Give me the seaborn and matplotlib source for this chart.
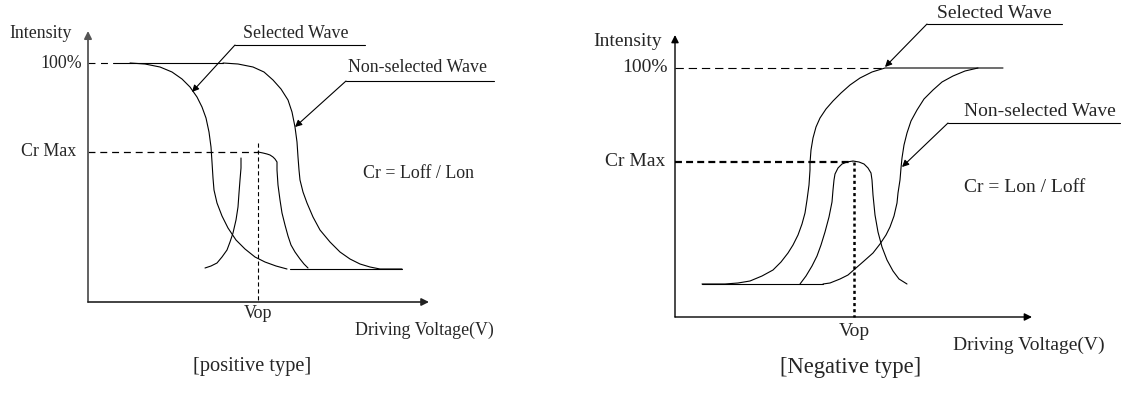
import matplotlib
matplotlib.use("Agg")
import matplotlib.pyplot as plt
import seaborn as sns

sns.set_theme(style="white")
plt.rcParams["font.family"] = ["Liberation Serif", "DejaVu Serif"]
plt.rcParams["lines.scale_dashes"] = False

# positions (x right, y down)
# --- positive type (left) ---
pos_sel_x = [130, 145, 160, 172, 182, 190, 197, 202, 206, 209, 211, 212, 213,
             214, 217, 222, 228, 236, 245, 255, 265, 276, 287]
pos_sel_y = [63, 64, 67, 72, 79, 87, 97, 107, 118, 132, 147, 162, 178,
             190, 203, 216, 228, 240, 249, 257, 262, 266, 269]
pos_non_x = [223, 238, 253, 264, 273, 281, 288, 292, 295, 297, 298, 299, 300,
             303, 307, 313, 320, 330, 340, 350, 360, 370, 380, 402]
pos_non_y = [63, 64, 67, 72, 80, 89, 100, 112, 127, 142, 157, 170, 180,
             192, 203, 217, 230, 242, 252, 259, 264, 267, 269, 269]
pos_cr_left_x = [205, 211, 217, 222, 227, 230, 233, 236, 238, 239, 240, 241, 241]
pos_cr_left_y = [268, 266, 263, 257, 250, 242, 233, 220, 207, 193, 180, 168, 158]
pos_cr_right_x = [258, 263, 267, 270, 273, 275, 277, 277, 277, 278, 280, 282,
                  285, 288, 291, 295, 300, 304, 308]
pos_cr_right_y = [152, 153, 154, 155, 157, 159, 162, 166, 170, 185, 200, 213,
                  225, 236, 245, 252, 259, 264, 268]
pos_top_x = [113, 223]
pos_top_y = [63, 63]
pos_base_x = [290, 402]
pos_base_y = [269, 269]

# --- negative type (right) ---
neg_sel_x = [702, 725, 738, 750, 762, 773, 781, 788, 793, 798, 802, 805, 807,
             809, 810, 810, 811, 813, 816, 820, 826, 833, 841, 850, 860, 872,
             885, 1003]
neg_sel_y = [284, 284, 283, 281, 276, 270, 262, 253, 245, 235, 224, 213, 200,
             185, 170, 163, 150, 138, 127, 118, 109, 101, 93, 85, 78, 72,
             68, 68]
neg_non_x = [823, 830, 840, 848, 856, 864, 873, 880, 886, 890, 894, 897, 898,
             900, 901, 902, 904, 907, 911, 917, 924, 933, 942, 953, 965, 978]
neg_non_y = [284, 283, 279, 275, 268, 261, 253, 244, 235, 227, 216, 203, 193,
             180, 168, 158, 145, 133, 121, 110, 99, 90, 82, 76, 71, 68]
neg_cr_x = [800, 806, 812, 817, 821, 825, 829, 832, 833, 834, 835, 838, 842,
            847, 853, 859, 864, 868, 871, 872, 873, 875, 878, 882, 887, 893,
            899, 907]
neg_cr_y = [284, 276, 266, 256, 245, 232, 217, 202, 190, 180, 174, 168, 164,
            162, 161, 162, 164, 168, 173, 180, 195, 215, 232, 247, 260, 271,
            279, 284]
neg_base_x = [702, 823]
neg_base_y = [284, 284]

fig = plt.figure(figsize=(11.23, 4.0), dpi=100)
ax = fig.add_axes([0, 0, 1, 1])
ax.set_xlim(0, 1123)
ax.set_ylim(400, 0)
ax.axis("off")

curves = [
    (pos_sel_x, pos_sel_y), (pos_non_x, pos_non_y),
    (pos_cr_left_x, pos_cr_left_y), (pos_cr_right_x, pos_cr_right_y),
    (pos_top_x, pos_top_y), (pos_base_x, pos_base_y),
    (neg_sel_x, neg_sel_y), (neg_non_x, neg_non_y), (neg_cr_x, neg_cr_y),
    (neg_base_x, neg_base_y),
]
for cx, cy in curves:
    sns.lineplot(x=cx, y=cy, sort=False, estimator=None, color="black",
                 lw=0.8, ax=ax)

# axes with arrow heads
def arrow(start, tip, color="black", lw=1.0, ms=11):
    ax.annotate("", xy=tip, xytext=start,
                arrowprops=dict(arrowstyle="-|>", color=color, lw=lw,
                                mutation_scale=ms, shrinkA=0, shrinkB=0))

arrow((88, 302), (88, 31), color="#555555", lw=1.3)
arrow((88, 302), (429, 302), color="#222222", lw=1.2)
arrow((675, 317), (675, 35), lw=1.0)
arrow((675, 317), (1032, 317), lw=1.0)

# reference dashes, left
ax.plot([88, 113], [63, 63], color="black", lw=0.8, ls=(0, (5, 4)))
ax.plot([88, 258], [152, 152], color="black", lw=0.9, ls=(0, (5, 3.5)))
ax.plot([258, 258], [143, 302], color="black", lw=0.8, ls=(0, (3, 2)))
# reference dashes, right
ax.plot([675, 885], [68, 68], color="black", lw=0.8, ls=(0, (6, 3.5)))
ax.plot([675, 853], [162, 162], color="black", lw=1.6, ls=(0, (5, 3)))
ax.plot([854, 854], [162, 317], color="black", lw=1.8, ls=(0, (2.2, 2.2)))

# leader lines
ax.plot([235, 365], [45, 45], color="black", lw=0.8)
arrow((235, 45), (192, 92), lw=0.8, ms=10)
ax.plot([346, 494], [81, 81], color="black", lw=0.8)
arrow((346, 81), (295, 127), lw=0.8, ms=10)
ax.plot([927, 1062], [24, 24], color="black", lw=0.8)
arrow((927, 24), (885, 67), lw=0.8, ms=10)
ax.plot([948, 1120], [123, 123], color="black", lw=0.8)
arrow((948, 123), (902, 167), lw=0.8, ms=10)

# texts
fl, fr = 12.9, 14.0
ax.text(41, 33, "Intensity", fontsize=fl, ha="center", va="center")
ax.text(82, 63, "100%", fontsize=fl, ha="right", va="center")
ax.text(76, 152, "Cr Max", fontsize=fl, ha="right", va="center")
ax.text(258, 314, "Vop", fontsize=fl, ha="center", va="center")
ax.text(355, 330, "Driving Voltage(V)", fontsize=fl, ha="left", va="center")
ax.text(193, 366, "[positive type]", fontsize=14.7, ha="left", va="center")
ax.text(243, 33, "Selected Wave", fontsize=fl, ha="left", va="center")
ax.text(348, 67, "Non-selected Wave", fontsize=fl, ha="left", va="center")
ax.text(363, 173, "Cr = Loff / Lon", fontsize=fl, ha="left", va="center")

ax.text(593, 42, "Intensity", fontsize=fr, ha="left", va="center")
ax.text(668, 68, "100%", fontsize=fr, ha="right", va="center")
ax.text(665, 162, "Cr Max", fontsize=fr, ha="right", va="center")
ax.text(854, 332, "Vop", fontsize=fr, ha="center", va="center")
ax.text(953, 345, "Driving Voltage(V)", fontsize=fr, ha="left", va="center")
ax.text(780, 368, "[Negative type]", fontsize=16.3, ha="left", va="center")
ax.text(937, 13, "Selected Wave", fontsize=fr, ha="left", va="center")
ax.text(964, 112, "Non-selected Wave", fontsize=fr, ha="left", va="center")
ax.text(964, 187, "Cr = Lon / Loff", fontsize=fr, ha="left", va="center")

fig.savefig("out.png", dpi=100, facecolor="white")
